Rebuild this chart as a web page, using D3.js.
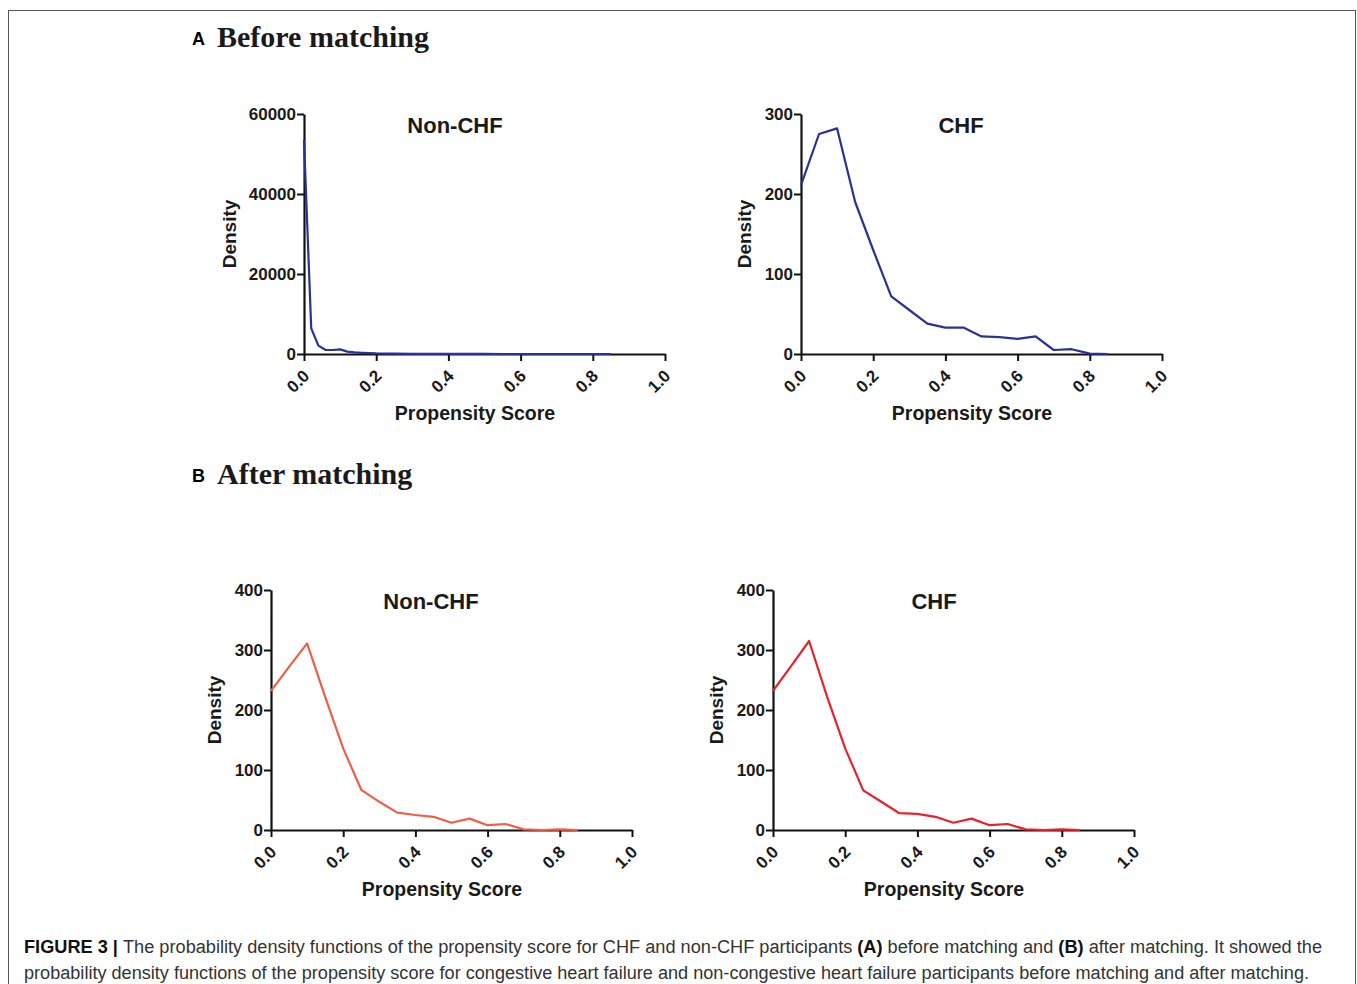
<!DOCTYPE html>
<html>
<head>
<meta charset="utf-8">
<style>
  body { margin: 0; background: #fff; }
  svg { display: block; }
</style>
</head>
<body>
<div id="chart"></div>
<script src="https://cdn.jsdelivr.net/npm/d3@7"></script>
<script>
// propensity score grid
var beforeNonX = [0, 0.02, 0.04, 0.06, 0.08, 0.10, 0.12, 0.14, 0.16, 0.18, 0.20, 0.25, 0.30, 0.35, 0.40, 0.45, 0.50, 0.55, 0.60, 0.65, 0.70, 0.75, 0.80, 0.85];
var beforeNonY = [53500, 6400, 2100, 1000, 1000, 1150, 600, 400, 300, 220, 150, 80, 40, 25, 15, 10, 8, 5, 4, 3, 2, 1, 1, 0];

var gridX = [0, 0.05, 0.10, 0.15, 0.20, 0.25, 0.30, 0.35, 0.40, 0.45, 0.50, 0.55, 0.60, 0.65, 0.70, 0.75, 0.80, 0.85];
var beforeChfY = [211, 275, 282, 190, 130, 72, 55, 38, 33, 33, 22, 21, 19, 22, 5, 6, 0.5, 0];
var afterNonY = [232, 272, 311, 222, 136, 67, 47, 29, 25, 22, 12, 19, 8, 10, 1, 0, 1, 0];
var afterChfY = [232, 273, 315, 222, 136, 66, 47, 28, 27, 22, 12, 19, 8, 10, 1, 0, 1, 0];

var xTicks = [0, 0.2, 0.4, 0.6, 0.8, 1.0];
var W = 1357, H = 984;

var svg = d3.select("#chart").append("svg")
    .attr("width", W).attr("height", H);

// frame
svg.append("rect")
    .attr("x", 8.5).attr("y", 10.5)
    .attr("width", 1347).attr("height", 990)
    .attr("fill", "none").attr("stroke", "#555").attr("stroke-width", 1);

function panel(opt) {
  var x = d3.scaleLinear().domain([0, 1]).range([opt.left, opt.left + 361]);
  var y = d3.scaleLinear().domain([0, opt.ymax]).range([opt.top + 240, opt.top]);
  var g = svg.append("g");

  var xa = g.append("g")
      .attr("transform", "translate(0," + y(0) + ")")
      .call(d3.axisBottom(x).tickValues(xTicks).tickFormat(d3.format(".1f")).tickSize(7).tickSizeOuter(0));
  xa.selectAll("text")
      .attr("x", 0).attr("y", 0).attr("dy", 0)
      .attr("text-anchor", "end")
      .attr("transform", "translate(6,23) rotate(-45)");

  var ya = g.append("g")
      .attr("transform", "translate(" + x(0) + ",0)")
      .call(d3.axisLeft(y).tickValues(opt.yTicks).tickFormat(d3.format("d")).tickSize(7).tickSizeOuter(0));

  g.selectAll(".domain").attr("stroke", "#111").attr("stroke-width", 2.2);
  g.selectAll(".tick line").attr("stroke", "#111").attr("stroke-width", 2);
  g.selectAll(".tick text")
      .attr("fill", "#1a1a1a")
      .style("font-family", "'Liberation Sans', Arial, sans-serif")
      .style("font-weight", "bold")
      .style("font-size", "17px");
  ya.selectAll("text").attr("x", -8);

  var line = d3.line().x(function (d) { return x(d[0]); }).y(function (d) { return y(d[1]); });
  var pts = opt.xs.map(function (v, i) { return [v, opt.ys[i]]; });
  g.append("path")
      .attr("d", line(pts))
      .attr("fill", "none")
      .attr("stroke", opt.color)
      .attr("stroke-width", 2.2)
      .attr("stroke-linejoin", "round");

  g.append("text")
      .attr("x", opt.titleX).attr("y", opt.top + 19)
      .attr("text-anchor", "middle")
      .style("font-family", "'Liberation Sans', Arial, sans-serif")
      .style("font-weight", "bold").style("font-size", "22px")
      .attr("fill", "#1a1a1a")
      .text(opt.title);

  g.append("text")
      .attr("x", opt.left + 171).attr("y", opt.top + 306)
      .attr("text-anchor", "middle")
      .style("font-family", "'Liberation Sans', Arial, sans-serif")
      .style("font-weight", "bold").style("font-size", "19.5px")
      .attr("fill", "#1a1a1a")
      .text("Propensity Score");

  g.append("text")
      .attr("transform", "translate(" + (opt.left - opt.densOff) + "," + (opt.top + 120) + ") rotate(-90)")
      .attr("text-anchor", "middle")
      .style("font-family", "'Liberation Sans', Arial, sans-serif")
      .style("font-weight", "bold").style("font-size", "19px")
      .attr("fill", "#1a1a1a")
      .text("Density");
}

panel({ left: 304, top: 114, ymax: 60000, yTicks: [0, 20000, 40000, 60000], densOff: 68,
        xs: beforeNonX, ys: beforeNonY, color: "#2b3196", title: "Non-CHF", titleX: 455 });
panel({ left: 801, top: 114, ymax: 300, yTicks: [0, 100, 200, 300], densOff: 50,
        xs: gridX, ys: beforeChfY, color: "#2b3196", title: "CHF", titleX: 961 });
panel({ left: 271, top: 590, ymax: 400, yTicks: [0, 100, 200, 300, 400], densOff: 50,
        xs: gridX, ys: afterNonY, color: "#ee5e48", title: "Non-CHF", titleX: 431 });
panel({ left: 773, top: 590, ymax: 400, yTicks: [0, 100, 200, 300, 400], densOff: 50,
        xs: gridX, ys: afterChfY, color: "#e8222c", title: "CHF", titleX: 934 });

// section headings
function heading(letter, label, yb) {
  svg.append("text").attr("x", 192).attr("y", yb - 2)
      .style("font-family", "'Liberation Sans', Arial, sans-serif")
      .style("font-weight", "bold").style("font-size", "18px")
      .text(letter);
  svg.append("text").attr("x", 217).attr("y", yb)
      .style("font-family", "'Liberation Serif', 'Times New Roman', serif")
      .style("font-weight", "bold").style("font-size", "30px")
      .attr("fill", "#1a1a1a")
      .text(label);
}
heading("A", "Before matching", 47);
heading("B", "After matching", 484);

// caption
var cap1 = svg.append("text").attr("x", 24).attr("y", 953)
    .attr("textLength", 1298).attr("lengthAdjust", "spacingAndGlyphs")
    .style("font-family", "'Liberation Sans', Arial, sans-serif")
    .style("font-size", "18px").attr("fill", "#333");
cap1.append("tspan").style("font-weight", "bold").attr("fill", "#111").text("FIGURE 3 | ");
cap1.append("tspan").text("The probability density functions of the propensity score for CHF and non-CHF participants ");
cap1.append("tspan").style("font-weight", "bold").attr("fill", "#111").text("(A)");
cap1.append("tspan").text(" before matching and ");
cap1.append("tspan").style("font-weight", "bold").attr("fill", "#111").text("(B)");
cap1.append("tspan").text(" after matching. It showed the");

svg.append("text").attr("x", 24).attr("y", 979)
    .attr("textLength", 1285).attr("lengthAdjust", "spacingAndGlyphs")
    .style("font-family", "'Liberation Sans', Arial, sans-serif")
    .style("font-size", "18px").attr("fill", "#333")
    .text("probability density functions of the propensity score for congestive heart failure and non-congestive heart failure participants before matching and after matching.");
</script>
</body>
</html>
